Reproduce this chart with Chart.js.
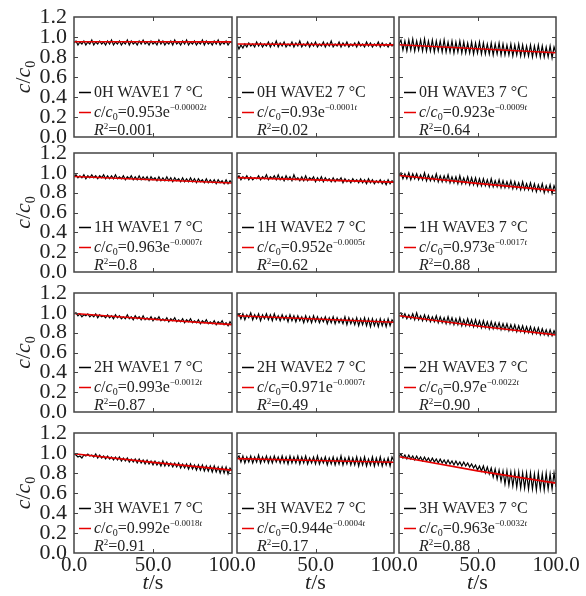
<!DOCTYPE html>
<html>
<head>
<meta charset="utf-8">
<script src="https://cdn.jsdelivr.net/npm/chart.js@4.4.0/dist/chart.umd.min.js"></script>
<style>
  html, body { margin: 0; padding: 0; background: #fff; }
  #wrap { position: relative; width: 586px; height: 596px; overflow: hidden; background: #fff; }
  #wrap canvas { position: absolute; }
</style>
</head>
<body>
<div id="wrap"></div>
<script>
// labels
const hours = ["0H", "1H", "2H", "3H"];
const waves = ["WAVE1", "WAVE2", "WAVE3"];
const yTicks = [0, 0.2, 0.4, 0.6, 0.8, 1.0, 1.2];
const xTicks = [0, 50, 100];

// fit legend text c/c0 = A e^(-k t)
const fitA = [["0.953", "0.93", "0.923"], ["0.963", "0.952", "0.973"], ["0.993", "0.971", "0.97"], ["0.992", "0.944", "0.963"]];
const fitK = [["0.00002", "0.0001", "0.0009"], ["0.0007", "0.0005", "0.0017"], ["0.0012", "0.0007", "0.0022"], ["0.0018", "0.0004", "0.0032"]];
const r2 = [["0.001", "0.02", "0.64"], ["0.8", "0.62", "0.88"], ["0.87", "0.49", "0.90"], ["0.91", "0.17", "0.88"]];

// red fit line read at t = 0, 50, 100
const fitT = [0, 50, 100];
const fit0H = [[0.953, 0.952, 0.951], [0.93, 0.925, 0.921], [0.923, 0.882, 0.843]];
const fit1H = [[0.963, 0.930, 0.898], [0.952, 0.929, 0.906], [0.973, 0.894, 0.821]];
const fit2H = [[0.993, 0.935, 0.881], [0.971, 0.938, 0.905], [0.970, 0.867, 0.778]];
const fit3H = [[0.992, 0.906, 0.829], [0.944, 0.925, 0.907], [0.963, 0.821, 0.699]];

// measured c/c0, samples evenly spaced over 0..100 s
const h0w1 = [0.94,0.96,0.92,0.95,0.93,0.96,0.92,0.95,0.93,0.97,0.92,0.95,0.93,0.96,0.93,0.95,0.92,0.96,0.93,0.97,0.92,0.95,0.93,0.96,0.92,0.95,0.93,0.97,0.92,0.96,0.93,0.95,0.92,0.96,0.93,0.97,0.93,0.95,0.92,0.96,0.93,0.95,0.92,0.97,0.93,0.96,0.92,0.95,0.93,0.96,0.92,0.97,0.93,0.95,0.92,0.96,0.93,0.97,0.92,0.95,0.93,0.96,0.92,0.95,0.93,0.97,0.92,0.96,0.93,0.95,0.92,0.96,0.93,0.97,0.92,0.95,0.93,0.96,0.92,0.95,0.94];
const h0w2 = [0.93,0.88,0.92,0.89,0.93,0.90,0.94,0.91,0.93,0.90,0.95,0.91,0.94,0.90,0.93,0.91,0.95,0.90,0.94,0.91,0.96,0.90,0.94,0.91,0.95,0.90,0.93,0.91,0.95,0.90,0.94,0.91,0.96,0.90,0.93,0.91,0.95,0.90,0.94,0.91,0.95,0.90,0.93,0.91,0.95,0.90,0.94,0.91,0.96,0.90,0.93,0.91,0.95,0.90,0.94,0.91,0.95,0.90,0.93,0.91,0.94,0.90,0.95,0.91,0.93,0.90,0.95,0.91,0.94,0.90,0.93,0.91,0.95,0.90,0.94,0.91,0.93,0.90,0.94,0.91,0.93];
const h0w3 = [0.93,0.97,0.87,0.96,0.86,0.97,0.87,0.98,0.86,0.96,0.87,0.97,0.86,0.98,0.86,0.96,0.86,0.97,0.85,0.96,0.86,0.96,0.85,0.97,0.85,0.95,0.85,0.96,0.84,0.95,0.85,0.96,0.84,0.95,0.84,0.94,0.84,0.95,0.83,0.94,0.84,0.95,0.83,0.94,0.83,0.93,0.83,0.94,0.82,0.93,0.83,0.94,0.82,0.93,0.82,0.92,0.82,0.93,0.81,0.92,0.82,0.93,0.81,0.92,0.81,0.91,0.81,0.92,0.80,0.91,0.81,0.92,0.80,0.91,0.80,0.90,0.80,0.91,0.79,0.90,0.84];
const h1w1 = [0.96,0.98,0.95,0.97,0.95,0.98,0.94,0.97,0.95,0.98,0.95,0.97,0.94,0.97,0.95,0.98,0.94,0.97,0.94,0.97,0.94,0.98,0.94,0.96,0.94,0.97,0.93,0.96,0.94,0.97,0.93,0.96,0.93,0.97,0.93,0.96,0.93,0.96,0.92,0.96,0.93,0.95,0.92,0.96,0.92,0.95,0.92,0.96,0.92,0.95,0.91,0.95,0.92,0.94,0.91,0.95,0.91,0.94,0.91,0.95,0.91,0.94,0.90,0.94,0.91,0.93,0.90,0.94,0.90,0.93,0.90,0.93,0.89,0.93,0.90,0.92,0.89,0.93,0.89,0.92,0.90];
const h1w2 = [0.95,0.97,0.93,0.96,0.94,0.97,0.93,0.96,0.93,0.95,0.94,0.97,0.93,0.96,0.94,0.98,0.93,0.96,0.94,0.97,0.93,0.98,0.93,0.96,0.92,0.97,0.93,0.96,0.92,0.98,0.93,0.95,0.92,0.96,0.92,0.97,0.92,0.95,0.93,0.96,0.91,0.95,0.92,0.96,0.91,0.95,0.92,0.94,0.91,0.95,0.91,0.94,0.92,0.95,0.90,0.94,0.91,0.93,0.90,0.94,0.91,0.93,0.90,0.94,0.90,0.93,0.89,0.94,0.90,0.93,0.89,0.92,0.90,0.93,0.89,0.92,0.88,0.93,0.89,0.92,0.90];
const h1w3 = [0.97,1.00,0.94,0.99,0.94,1.00,0.93,0.99,0.94,0.99,0.93,0.98,0.93,1.00,0.92,0.98,0.92,0.97,0.92,0.99,0.91,0.97,0.91,0.97,0.91,0.98,0.90,0.96,0.90,0.96,0.89,0.97,0.89,0.95,0.89,0.96,0.88,0.95,0.88,0.95,0.87,0.94,0.87,0.94,0.87,0.93,0.86,0.94,0.86,0.92,0.86,0.93,0.85,0.92,0.85,0.91,0.85,0.92,0.84,0.91,0.84,0.90,0.83,0.91,0.83,0.89,0.83,0.90,0.82,0.89,0.81,0.88,0.82,0.89,0.80,0.87,0.81,0.88,0.79,0.87,0.82];
const h2w1 = [0.99,1.00,0.97,0.99,0.96,0.98,0.97,0.99,0.96,0.98,0.96,0.99,0.95,0.98,0.96,0.97,0.95,0.98,0.95,0.97,0.94,0.98,0.95,0.97,0.94,0.96,0.94,0.98,0.94,0.96,0.93,0.97,0.94,0.96,0.93,0.97,0.93,0.95,0.93,0.96,0.92,0.95,0.93,0.96,0.92,0.94,0.92,0.95,0.91,0.94,0.92,0.95,0.91,0.93,0.91,0.94,0.90,0.93,0.91,0.94,0.90,0.92,0.90,0.93,0.89,0.92,0.90,0.93,0.89,0.91,0.89,0.92,0.88,0.91,0.89,0.92,0.88,0.90,0.87,0.91,0.88];
const h2w2 = [0.98,0.99,0.94,0.99,0.93,0.98,0.95,1.00,0.93,0.98,0.94,0.99,0.92,0.98,0.94,0.99,0.93,0.98,0.92,0.99,0.93,0.97,0.92,0.98,0.93,0.97,0.91,0.98,0.92,0.97,0.91,0.97,0.92,0.96,0.90,0.97,0.91,0.96,0.90,0.97,0.91,0.96,0.90,0.95,0.91,0.96,0.89,0.95,0.90,0.96,0.89,0.95,0.90,0.94,0.89,0.96,0.88,0.95,0.89,0.94,0.88,0.95,0.87,0.94,0.88,0.95,0.87,0.94,0.86,0.94,0.87,0.93,0.86,0.94,0.87,0.93,0.86,0.94,0.87,0.93,0.90];
const h2w3 = [0.99,1.00,0.95,0.99,0.94,0.98,0.94,0.99,0.93,1.00,0.93,0.97,0.92,0.98,0.92,0.97,0.91,0.96,0.91,0.97,0.90,0.96,0.90,0.95,0.89,0.96,0.89,0.95,0.88,0.94,0.88,0.95,0.87,0.93,0.87,0.94,0.87,0.93,0.86,0.93,0.86,0.92,0.85,0.92,0.85,0.91,0.84,0.91,0.84,0.90,0.84,0.90,0.83,0.89,0.83,0.89,0.82,0.88,0.82,0.88,0.81,0.87,0.81,0.87,0.80,0.86,0.80,0.86,0.79,0.85,0.79,0.85,0.78,0.84,0.78,0.83,0.77,0.83,0.77,0.82,0.78];
const h3w1 = [0.99,0.98,0.96,0.97,0.95,0.98,0.97,0.99,0.97,0.98,0.96,0.99,0.95,0.98,0.95,0.97,0.94,0.97,0.94,0.96,0.93,0.96,0.93,0.96,0.92,0.95,0.92,0.95,0.91,0.94,0.91,0.94,0.90,0.94,0.90,0.93,0.89,0.93,0.89,0.92,0.88,0.92,0.88,0.91,0.87,0.92,0.87,0.91,0.87,0.90,0.86,0.90,0.86,0.90,0.85,0.89,0.85,0.89,0.84,0.89,0.84,0.88,0.83,0.88,0.83,0.88,0.82,0.87,0.82,0.87,0.81,0.87,0.81,0.86,0.80,0.86,0.80,0.86,0.79,0.85,0.82];
const h3w2 = [0.95,0.97,0.91,0.97,0.90,0.96,0.91,0.97,0.90,0.96,0.91,0.98,0.90,0.96,0.91,0.97,0.90,0.96,0.90,0.97,0.91,0.96,0.90,0.97,0.90,0.96,0.89,0.97,0.90,0.96,0.90,0.97,0.89,0.96,0.90,0.97,0.89,0.95,0.90,0.96,0.89,0.97,0.89,0.95,0.90,0.96,0.88,0.95,0.89,0.96,0.88,0.95,0.89,0.97,0.88,0.95,0.89,0.96,0.88,0.95,0.88,0.96,0.87,0.95,0.88,0.96,0.87,0.94,0.88,0.96,0.87,0.95,0.88,0.96,0.87,0.94,0.88,0.95,0.87,0.96,0.92];
const h3w3 = [0.97,0.99,0.95,0.98,0.94,0.98,0.94,0.97,0.93,0.97,0.93,0.96,0.92,0.96,0.92,0.95,0.91,0.95,0.91,0.94,0.90,0.94,0.90,0.93,0.89,0.93,0.89,0.92,0.88,0.92,0.88,0.91,0.87,0.91,0.87,0.90,0.86,0.89,0.85,0.88,0.83,0.87,0.82,0.87,0.80,0.86,0.79,0.85,0.76,0.84,0.74,0.83,0.72,0.82,0.69,0.82,0.68,0.81,0.67,0.81,0.66,0.81,0.65,0.80,0.65,0.80,0.64,0.80,0.64,0.79,0.63,0.80,0.64,0.79,0.63,0.80,0.64,0.79,0.64,0.80,0.66];

const measured = [[h0w1, h0w2, h0w3], [h1w1, h1w2, h1w3], [h2w1, h2w2, h2w3], [h3w1, h3w2, h3w3]];
const fits = [fit0H, fit1H, fit2H, fit3H];

// panel placement (px)
const colX = [74, 237, 399], colW = [158, 157, 157];
const rowY = [17, 153, 293, 433], rowH = [120, 119, 119, 120];
const PADL = 74, PADT = 30, PADR = 32, PADB = 45;
const SERIF = "'Liberation Serif', 'Times New Roman', serif";
const TXT = "#222";

function richWidth(ctx, parts) {
  let w = 0;
  parts.forEach(p => {
    ctx.font = (p.it ? "italic " : "") + p.size + "px " + SERIF;
    w += ctx.measureText(p.text).width;
  });
  return w;
}

function drawRich(ctx, x, y, parts) {
  parts.forEach(p => {
    ctx.font = (p.it ? "italic " : "") + p.size + "px " + SERIF;
    ctx.fillStyle = TXT;
    ctx.textAlign = "left";
    ctx.textBaseline = "alphabetic";
    ctx.fillText(p.text, x, y + (p.dy || 0));
    x += ctx.measureText(p.text).width;
  });
}

function makeFrame(r, c) {
  return {
    id: "frame",
    afterDraw(chart) {
      const { ctx, chartArea: a, scales } = chart;
      ctx.save();
      // inward tick marks
      ctx.strokeStyle = "#444";
      ctx.lineWidth = 1;
      ctx.beginPath();
      yTicks.slice(1, -1).forEach(v => {
        const py = Math.round(scales.y.getPixelForValue(v)) + 0.5;
        ctx.moveTo(a.left, py); ctx.lineTo(a.left + 4, py);
        ctx.moveTo(a.right, py); ctx.lineTo(a.right - 4, py);
      });
      xTicks.slice(1, -1).forEach(v => {
        const px = Math.round(scales.x.getPixelForValue(v)) + 0.5;
        ctx.moveTo(px, a.top); ctx.lineTo(px, a.top + 4);
        ctx.moveTo(px, a.bottom); ctx.lineTo(px, a.bottom - 4);
      });
      ctx.stroke();
      ctx.lineWidth = 1.5;
      ctx.strokeRect(a.left, a.top, a.right - a.left, a.bottom - a.top);

      // legend block
      const L = a.left, B = a.bottom;
      ctx.lineWidth = 1.5;
      ctx.strokeStyle = "#000";
      ctx.beginPath(); ctx.moveTo(L + 5, B - 44.5); ctx.lineTo(L + 17, B - 44.5); ctx.stroke();
      ctx.strokeStyle = "#e60000";
      ctx.beginPath(); ctx.moveTo(L + 5, B - 24.5); ctx.lineTo(L + 17, B - 24.5); ctx.stroke();
      drawRich(ctx, L + 20, B - 40, [{ text: hours[r] + " " + waves[c] + " 7 \u00b0C", size: 16 }]);
      drawRich(ctx, L + 20, B - 20, [
        { text: "c", size: 16, it: true }, { text: "/", size: 16 }, { text: "c", size: 16, it: true },
        { text: "0", size: 10, dy: 3 },
        { text: "=" + fitA[r][c] + "e", size: 16 },
        { text: "\u2212" + fitK[r][c], size: 9, dy: -7 }, { text: "t", size: 9, it: true, dy: -7 }
      ]);
      drawRich(ctx, L + 20, B - 2, [
        { text: "R", size: 16, it: true }, { text: "2", size: 9, dy: -6 }, { text: "=" + r2[r][c], size: 16 }
      ]);

      // axis titles
      if (c === 0) {
        const parts = [
          { text: "c", size: 22, it: true }, { text: "/", size: 22 }, { text: "c", size: 22, it: true },
          { text: "0", size: 14, dy: 5 }
        ];
        const w = richWidth(ctx, parts);
        ctx.translate(30, (a.top + a.bottom) / 2);
        ctx.rotate(-Math.PI / 2);
        drawRich(ctx, -w / 2, 0, parts);
        ctx.setTransform(1, 0, 0, 1, 0, 0);
      }
      if (r === 3) {
        const parts = [{ text: "t", size: 22, it: true }, { text: "/s", size: 22 }];
        const w = richWidth(ctx, parts);
        drawRich(ctx, (a.left + a.right) / 2 - w / 2, a.bottom + 36, parts);
      }
      ctx.restore();
    }
  };
}

const wrap = document.getElementById("wrap");
for (let r = 0; r < 4; r++) {
  for (let c = 0; c < 3; c++) {
    const cv = document.createElement("canvas");
    const w = PADL + colW[c] + PADR, h = PADT + rowH[r] + PADB;
    cv.width = w; cv.height = h;
    cv.style.width = w + "px"; cv.style.height = h + "px";
    cv.style.left = (colX[c] - PADL) + "px";
    cv.style.top = (rowY[r] - PADT) + "px";
    wrap.appendChild(cv);

    const series = measured[r][c];
    const pts = series.map((v, i) => ({ x: i * 100 / (series.length - 1), y: v }));
    const fitPts = fits[r][c].map((v, i) => ({ x: fitT[i], y: v }));

    new Chart(cv, {
      type: "line",
      data: {
        datasets: [
          { label: "fit", data: fitPts, borderColor: "#e60000", borderWidth: 1.6, pointRadius: 0, tension: 0, order: 0 },
          { label: hours[r] + " " + waves[c], data: pts, borderColor: "#000", borderWidth: 1.2, pointRadius: 0, tension: 0, order: 1 }
        ]
      },
      options: {
        responsive: false,
        animation: false,
        devicePixelRatio: 1,
        layout: { padding: { left: 0, right: PADR, top: PADT, bottom: 0 } },
        plugins: { legend: { display: false }, tooltip: { enabled: false } },
        scales: {
          x: {
            type: "linear", min: 0, max: 100,
            afterFit: s => { s.height = PADB; },
            afterBuildTicks: s => { s.ticks = xTicks.map(v => ({ value: v })); },
            grid: { display: false, drawTicks: false },
            border: { display: false },
            ticks: {
              display: r === 3, autoSkip: false, maxRotation: 0, padding: 0,
              color: TXT, font: { family: SERIF, size: 21 },
              callback: v => (c > 0 && v === 0) ? "" : v.toFixed(1)
            }
          },
          y: {
            type: "linear", min: 0, max: 1.2,
            afterFit: s => { s.width = PADL; },
            afterBuildTicks: s => { s.ticks = yTicks.map(v => ({ value: v })); },
            grid: { display: false, drawTicks: false },
            border: { display: false },
            ticks: {
              display: c === 0, autoSkip: false, padding: 7,
              color: TXT, font: { family: SERIF, size: 22 },
              callback: v => v.toFixed(1)
            }
          }
        }
      },
      plugins: [makeFrame(r, c)]
    });
  }
}
</script>
</body>
</html>
